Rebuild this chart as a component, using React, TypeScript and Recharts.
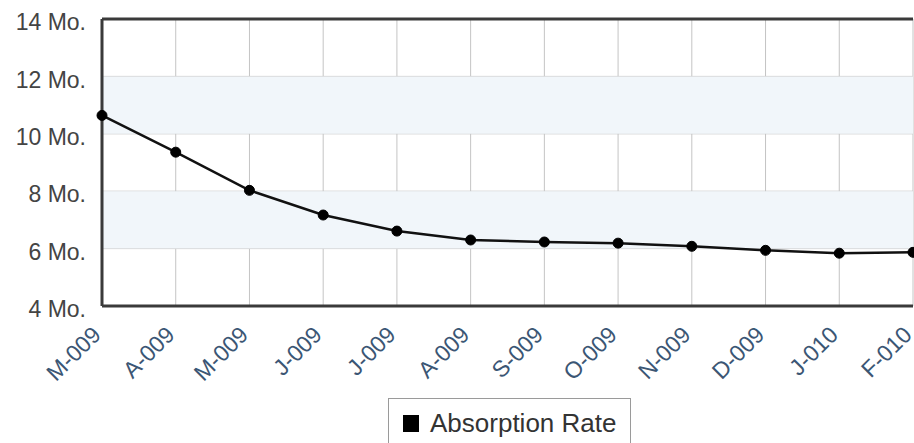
import React from "react"
import {
  LineChart, Line, XAxis, YAxis, CartesianGrid, ReferenceArea, ReferenceLine, Legend
} from "recharts"

const months = ["M-009", "A-009", "M-009", "J-009", "J-009", "A-009", "S-009", "O-009", "N-009", "D-009", "J-010", "F-010"]
const absorption = [10.64, 9.36, 8.03, 7.17, 6.61, 6.3, 6.23, 6.19, 6.08, 5.94, 5.84, 5.87]
const yTicks = [4, 6, 8, 10, 12, 14]
const shadedBands = [[6, 8], [10, 12]]

const data = months.map((m, i) => ({ month: m, rate: absorption[i] }))

const FONT = "'Liberation Sans', Arial, sans-serif"

const XTick = ({ x, y, payload }: any) => (
  <g transform={`translate(${x - 12},${y + 10})`}>
    <text
      transform="rotate(-45)"
      textAnchor="end"
      dy="0.75em"
      fill="#3b5674"
      fontSize={23}
      fontFamily={FONT}
    >
      {payload.value}
    </text>
  </g>
)

const LegendBox = () => (
  <div
    style={{
      position: "absolute",
      left: 388,
      top: 398,
      width: 243,
      height: 54,
      border: "1px solid #9a9a9a",
      background: "#fff",
      boxSizing: "border-box",
      fontFamily: FONT,
    }}
  >
    <div style={{ position: "absolute", left: 14, top: 16, width: 16, height: 17, background: "#000" }} />
    <div style={{ position: "absolute", left: 41, top: 10, fontSize: 26, color: "#333", whiteSpace: "nowrap", lineHeight: "28px" }}>
      Absorption Rate
    </div>
  </div>
)

export default function App() {
  return (
    <div style={{ position: "absolute", left: 0, top: 0, width: 914, height: 443, overflow: "hidden", background: "#fff" }}>
      <LineChart
        width={922}
        height={470}
        data={data}
        margin={{ top: 19, right: 9, bottom: 163, left: 0 }}
      >
        {shadedBands.map(([a, b]) => (
          <ReferenceArea key={a} y1={a} y2={b} fill="#f1f6fa" fillOpacity={1} stroke="none" />
        ))}
        <CartesianGrid stroke="#c4c4c4" strokeWidth={1} />
        <ReferenceLine y={14} stroke="#3a3a3a" strokeWidth={3} />
        <XAxis
          dataKey="month"
          interval={0}
          axisLine={{ stroke: "#3a3a3a", strokeWidth: 3 }}
          tickLine={false}
          tick={<XTick />}
          height={1}
        />
        <YAxis
          domain={[4, 14]}
          ticks={yTicks}
          interval={0}
          width={102}
          axisLine={{ stroke: "#3a3a3a", strokeWidth: 3 }}
          tickLine={false}
          tickMargin={10}
          tickFormatter={(v: number) => `${v} Mo.`}
          tick={{ fill: "#444", fontSize: 23, fontFamily: FONT, dy: 3 }}
        />
        <Legend content={() => null} />
        <Line
          type="linear"
          dataKey="rate"
          name="Absorption Rate"
          stroke="#111"
          strokeWidth={2.5}
          dot={{ r: 5, fill: "#000", stroke: "#000", strokeWidth: 1 }}
          isAnimationActive={false}
        />
      </LineChart>
      <LegendBox />
    </div>
  )
}
